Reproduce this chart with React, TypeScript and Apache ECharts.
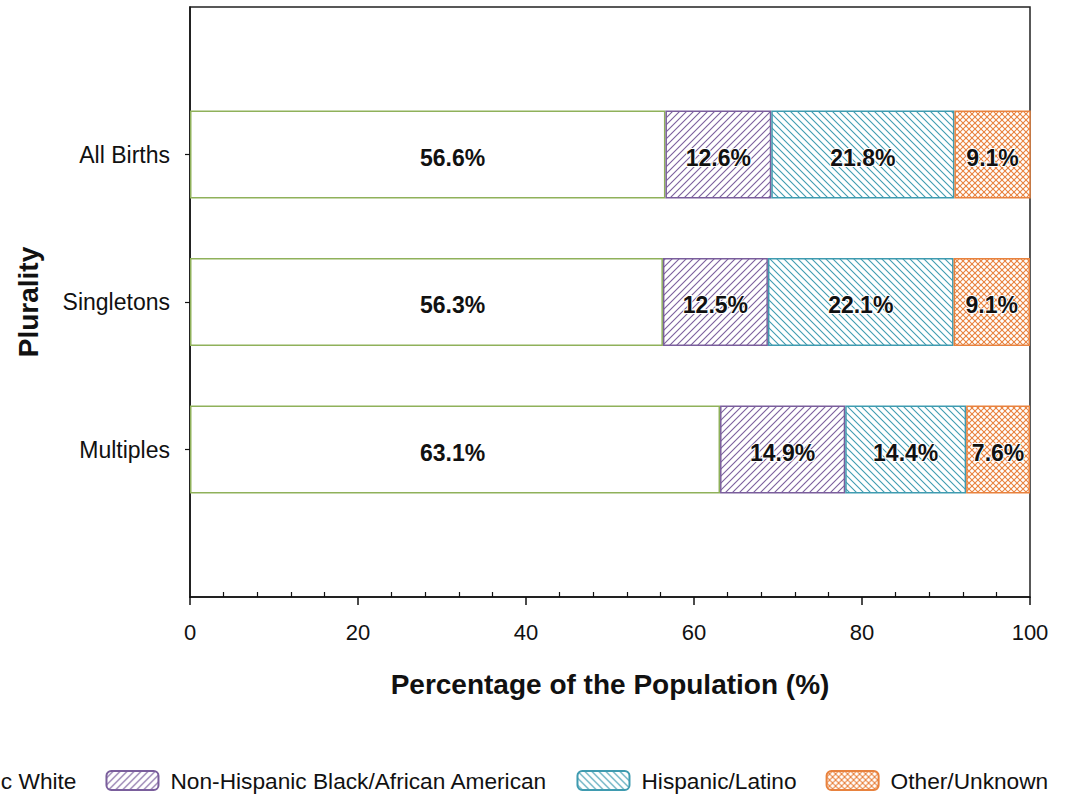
import React, { useEffect, useRef } from "react";
import * as echarts from "echarts";

const categories = ["All Births", "Singletons", "Multiples"];
const seriesNames = [
  "Non-Hispanic White",
  "Non-Hispanic Black/African American",
  "Hispanic/Latino",
  "Other/Unknown",
];
const whiteValues = [56.6, 56.3, 63.1];
const blackValues = [12.6, 12.5, 14.9];
const hispanicValues = [21.8, 22.1, 14.4];
const otherValues = [9.1, 9.1, 7.6];
const xTickValues = [0, 20, 40, 60, 80, 100];

const FONT = "'Liberation Sans', Arial, sans-serif";

function makeHatch(color: string, kind: "fwd" | "back" | "cross", s: number) {
  const c = document.createElement("canvas");
  c.width = s;
  c.height = s;
  const ctx = c.getContext("2d")!;
  ctx.fillStyle = "#ffffff";
  ctx.fillRect(0, 0, s, s);
  ctx.strokeStyle = color;
  ctx.lineWidth = 1.1;
  const line = (x1: number, y1: number, x2: number, y2: number) => {
    ctx.beginPath();
    ctx.moveTo(x1, y1);
    ctx.lineTo(x2, y2);
    ctx.stroke();
  };
  if (kind === "fwd" || kind === "cross") {
    line(-1, s + 1, s + 1, -1);
    line(-1, 1, 1, -1);
    line(s - 1, s + 1, s + 1, s - 1);
  }
  if (kind === "back" || kind === "cross") {
    line(-1, -1, s + 1, s + 1);
    line(s - 1, -1, s + 1, 1);
    line(-1, s - 1, 1, s + 1);
  }
  return c;
}

export default function App() {
  const ref = useRef<HTMLDivElement>(null);
  useEffect(() => {
    if (!ref.current) return;
    const chart = echarts.init(ref.current, undefined, { renderer: "svg" });
    const yData = ["", ...categories, ""];
    const pad = (arr: number[]) => [null, ...arr, null];
    const minorCats: string[] = [];
    for (let v = 0; v <= 100; v += 4) minorCats.push(String(v));

    const labelBase = {
      show: true,
      fontFamily: FONT,
      fontWeight: "bold" as const,
      fontSize: 23,
      color: "#111",
      textBorderColor: "#fff",
      textBorderWidth: 2,
      offset: [0, 3],
      formatter: (p: any) => `${Number(p.value).toFixed(1)}%`,
    };

    const purple = "#7a5e9c";
    const teal = "#3f9bb0";
    const orange = "#e8823e";
    const green = "#8fb15a";

    const mk = (
      name: string,
      vals: number[],
      color: any,
      border: string,
      label: any
    ) => ({
      name,
      type: "bar",
      stack: "total",
      barWidth: 88,
      data: pad(vals),
      itemStyle: { color, borderColor: border, borderWidth: 1.5 },
      label,
    });

    chart.setOption({
      animation: false,
      grid: {
        left: 190,
        right: 35,
        top: 7,
        bottom: 198,
        show: true,
        borderColor: "#222",
        borderWidth: 1.5,
        backgroundColor: "transparent",
      },
      legend: {
        left: -194,
        top: 764,
        itemWidth: 52,
        itemHeight: 19,
        itemGap: 29,
        textStyle: { fontFamily: FONT, fontSize: 22.7, color: "#111", padding: [0, 0, 0, 7] },
        data: seriesNames,
      },
      xAxis: [
        {
          type: "value",
          min: 0,
          max: 100,
          interval: 20,
          position: "bottom",
          axisLine: { show: true, lineStyle: { color: "#111", width: 1.5 } },
          axisTick: { show: true, length: 8, lineStyle: { color: "#111", width: 1.5 } },
          splitLine: { show: false },
          axisLabel: {
            fontFamily: FONT,
            fontSize: 22,
            color: "#111",
            margin: 24,
            customValues: xTickValues,
          },
          name: "Percentage of the Population (%)",
          nameLocation: "middle",
          nameGap: 73,
          nameTextStyle: { fontFamily: FONT, fontSize: 28, fontWeight: "bold", color: "#111" },
        },
        {
          type: "category",
          data: minorCats,
          boundaryGap: false,
          position: "bottom",
          axisLine: { show: false },
          axisLabel: { show: false },
          splitLine: { show: false },
          axisTick: {
            show: true,
            inside: true,
            length: 5,
            interval: (i: number) => i % 5 !== 0,
            lineStyle: { color: "#111", width: 1.2 },
          },
        },
      ],
      yAxis: {
        type: "category",
        data: yData,
        inverse: true,
        boundaryGap: false,
        axisLine: { show: true, lineStyle: { color: "#111", width: 1.5 } },
        axisTick: {
          show: true,
          length: 5,
          interval: (i: number) => i > 0 && i < yData.length - 1,
          lineStyle: { color: "#111", width: 1.2 },
        },
        splitLine: { show: false },
        axisLabel: { fontFamily: FONT, fontSize: 23, color: "#111", margin: 20 },
        name: "Plurality",
        nameLocation: "middle",
        nameGap: 148,
        nameRotate: 90,
        nameTextStyle: { fontFamily: FONT, fontSize: 28, fontWeight: "bold", color: "#111" },
      },
      series: [
        mk(seriesNames[0], whiteValues, "#ffffff", green, {
          ...labelBase,
          position: "insideLeft",
          distance: 230,
        }),
        mk(seriesNames[1], blackValues, { image: makeHatch(purple, "fwd", 7), repeat: "repeat" }, purple, {
          ...labelBase,
          position: "inside",
        }),
        mk(seriesNames[2], hispanicValues, { image: makeHatch(teal, "back", 7), repeat: "repeat" }, teal, {
          ...labelBase,
          position: "inside",
        }),
        mk(seriesNames[3], otherValues, { image: makeHatch(orange, "cross", 6), repeat: "repeat" }, orange, {
          ...labelBase,
          position: "inside",
        }),
      ],
    });
    return () => chart.dispose();
  }, []);
  return (
    <div
      ref={ref}
      style={{ position: "fixed", left: 0, top: 0, width: 1065, height: 795, background: "#fff" }}
    />
  );
}
